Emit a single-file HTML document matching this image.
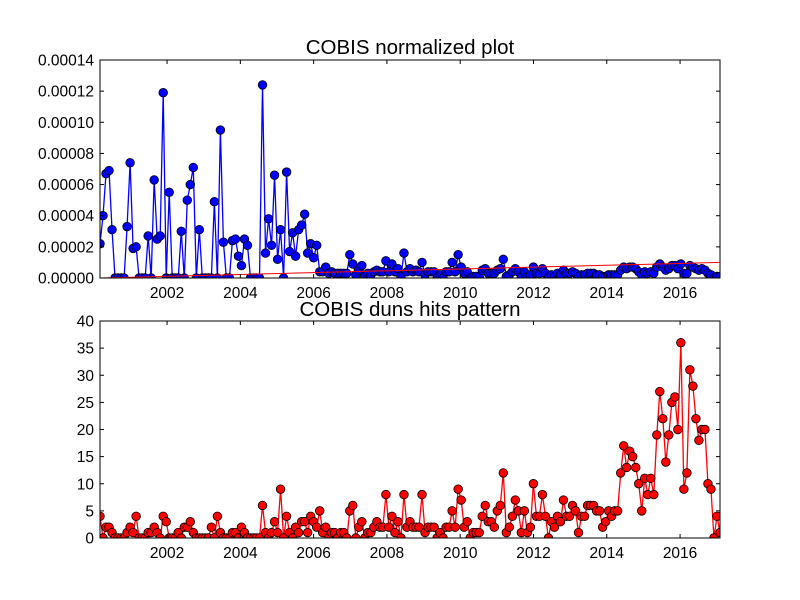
<!DOCTYPE html>
<html><head><meta charset="utf-8"><style>
html,body{margin:0;padding:0;background:#fff}
svg{display:block;font-family:"Liberation Sans","DejaVu Sans",sans-serif}
</style></head><body>
<svg id="chart" width="800" height="600" xmlns="http://www.w3.org/2000/svg"></svg>
<script>
const normValues=[2.2,4.0,6.7,6.9,3.1,0,0,0,0,3.3,7.4,1.9,2.0,0,0,0,2.7,0,6.3,2.5,2.7,11.9,0,5.5,0,0,0,3.0,0,5.0,6.0,7.1,0,3.1,0,0,0,0,4.9,0,9.5,2.3,0,0,2.4,2.5,1.4,0.8,2.5,2.1,0,0,0,0,12.4,1.6,3.8,2.1,6.6,1.2,3.1,0,6.8,1.7,2.9,1.4,3.1,3.4,4.1,1.6,2.2,1.3,2.1,0.4,0.4,0.7,0.3,0.4,0.3,0.3,0.3,0.3,0.3,1.5,0.9,0.2,0.5,0.8,0.1,0.3,0.2,0.4,0.5,0.4,0.4,1.1,0.4,0.9,0.4,0.6,0.1,1.6,0.4,0.6,0.4,0.5,0.4,1.0,0.2,0.4,0.4,0.4,0,0.2,0,0.4,0.4,1.0,0.4,1.5,0.7,0.3,0.4,0,0.1,0.1,0.1,0.5,0.6,0.3,0.3,0.3,0.5,0.6,1.2,0.1,0.2,0.4,0.6,0.4,0.1,0.4,0.1,0.2,0.7,0.3,0.3,0.6,0.3,0,0.2,0.1,0.3,0.2,0.5,0.3,0.3,0.4,0.3,0.1,0.2,0.2,0.3,0.3,0.3,0.2,0.2,0.1,0.1,0.2,0.2,0.2,0.2,0.5,0.7,0.6,0.7,0.7,0.6,0.4,0.2,0.4,0.3,0.4,0.3,0.7,0.9,0.7,0.5,0.6,0.8,0.8,0.6,0.9,0.3,0.3,0.8,0.7,0.6,0.5,0.6,0.5,0.3,0.2,0,0.1,0.1];
const hitValues=[4,0,2,2,1,0,0,0,0,1,2,1,4,0,0,0,1,1,2,1,0,4,3,0,0,0,1,0,2,2,3,1,0,0,0,0,0,2,0,4,1,0,0,0,1,1,0,2,1,0,0,0,0,0,6,1,0,1,3,1,9,0,4,1,0,2,1,3,3,1,4,3,2,5,1,2,0,1,1,0,1,1,0,5,6,0,2,3,0,1,1,2,3,2,2,8,2,4,1,3,0,8,2,3,2,2,2,8,1,2,2,2,0,1,0,2,2,5,2,9,7,2,3,0,1,1,1,4,6,3,3,2,5,6,12,1,2,4,7,5,1,5,1,2,10,4,4,8,4,0,3,2,4,3,7,4,4,6,5,1,4,4,6,6,6,5,5,2,3,5,4,5,5,12,17,13,16,15,13,10,5,11,8,11,8,19,27,22,14,19,25,26,20,36,9,12,31,28,22,18,20,20,10,9,0,4,1];
const yearTicks=[2002,2004,2006,2008,2010,2012,2014,2016];
const normTicks=[0,0.00002,0.00004,0.00006,0.00008,0.0001,0.00012,0.00014];
const hitTicks=[0,5,10,15,20,25,30,35,40];
const trendStart=0, trendEnd=0.00001;

const svg=document.getElementById('chart');
const NS='http://www.w3.org/2000/svg';
function mk(tag,attrs,parent){const e=document.createElementNS(NS,tag);for(const k in attrs)e.setAttribute(k,attrs[k]);(parent||svg).appendChild(e);return e;}
const X0=100,X1=720,Y0=2000.17,Y1=2017.09;
function xs(yr){return X0+(yr-Y0)/(Y1-Y0)*(X1-X0);}
function dateOf(i,n){return Y0+i*(Y1-Y0)/(n-1);}

function panel(name,top,bottom,ymax,ticks,fmt,vals,scale,color,title,titleY){
  const g=mk('g',{});
  
  
  const ys=v=>bottom-(v/ymax)*(bottom-top);
  mk('rect',{x:X0,y:top,width:X1-X0,height:bottom-top,fill:'#fff'},g);
  const n=vals.length;
  let d='';
  vals.forEach((v,i)=>{d+=(i?'L':'M')+xs(dateOf(i,n)).toFixed(2)+','+ys(v*scale).toFixed(2);});
  const clip=mk('clipPath',{id:'c'+name},g);
  mk('rect',{x:X0,y:top,width:X1-X0,height:bottom-top},clip);
  const sg=mk('g',{'clip-path':'url(#c'+name+')'},g);
  const ln=mk('path',{d:d,fill:'none',stroke:color,'stroke-width':1.3},sg);
  
  
  vals.forEach((v,i)=>{
    const c=mk('circle',{cx:xs(dateOf(i,n)),cy:ys(v*scale),r:4.3,fill:color,stroke:'#000','stroke-width':0.8},sg);
    
    
  });
  if(name==='normalized-panel'){
    const t=mk('line',{x1:X0,y1:ys(trendStart),x2:X1,y2:ys(trendEnd),stroke:'#f00','stroke-width':1},sg);
    
    
  }
  mk('rect',{x:X0,y:top,width:X1-X0,height:bottom-top,fill:'none',stroke:'#000','stroke-width':1},g);
  ticks.forEach(v=>{
    const y=ys(v);
    mk('line',{x1:X0,y1:y,x2:X0+4,y2:y,stroke:'#000'},g);
    mk('line',{x1:X1,y1:y,x2:X1-4,y2:y,stroke:'#000'},g);
    const t=mk('text',{x:X0-6,y:y+5.5,'text-anchor':'end','font-size':15.5},g);
    t.textContent=fmt(v);
    
    
  });
  yearTicks.forEach(yr=>{
    const x=xs(yr);
    mk('line',{x1:x,y1:bottom,x2:x,y2:bottom-4,stroke:'#000'},g);
    mk('line',{x1:x,y1:top,x2:x,y2:top+4,stroke:'#000'},g);
    const t=mk('text',{x:x,y:bottom+20,'text-anchor':'middle','font-size':15.5},g);
    t.textContent=yr;
    
    
  });
  const tt=mk('text',{x:(X0+X1)/2,y:titleY,'text-anchor':'middle','font-size':20.5},g);
  tt.textContent=title;
  
  
}
panel('normalized-panel',60,278,0.00014,normTicks,v=>v.toFixed(5),normValues,1e-5,'#0000ff','COBIS normalized plot',54);
panel('hits-panel',321,538,40,hitTicks,v=>String(v),hitValues,1,'#ff0000','COBIS duns hits pattern',316);
</script>
</body></html>
